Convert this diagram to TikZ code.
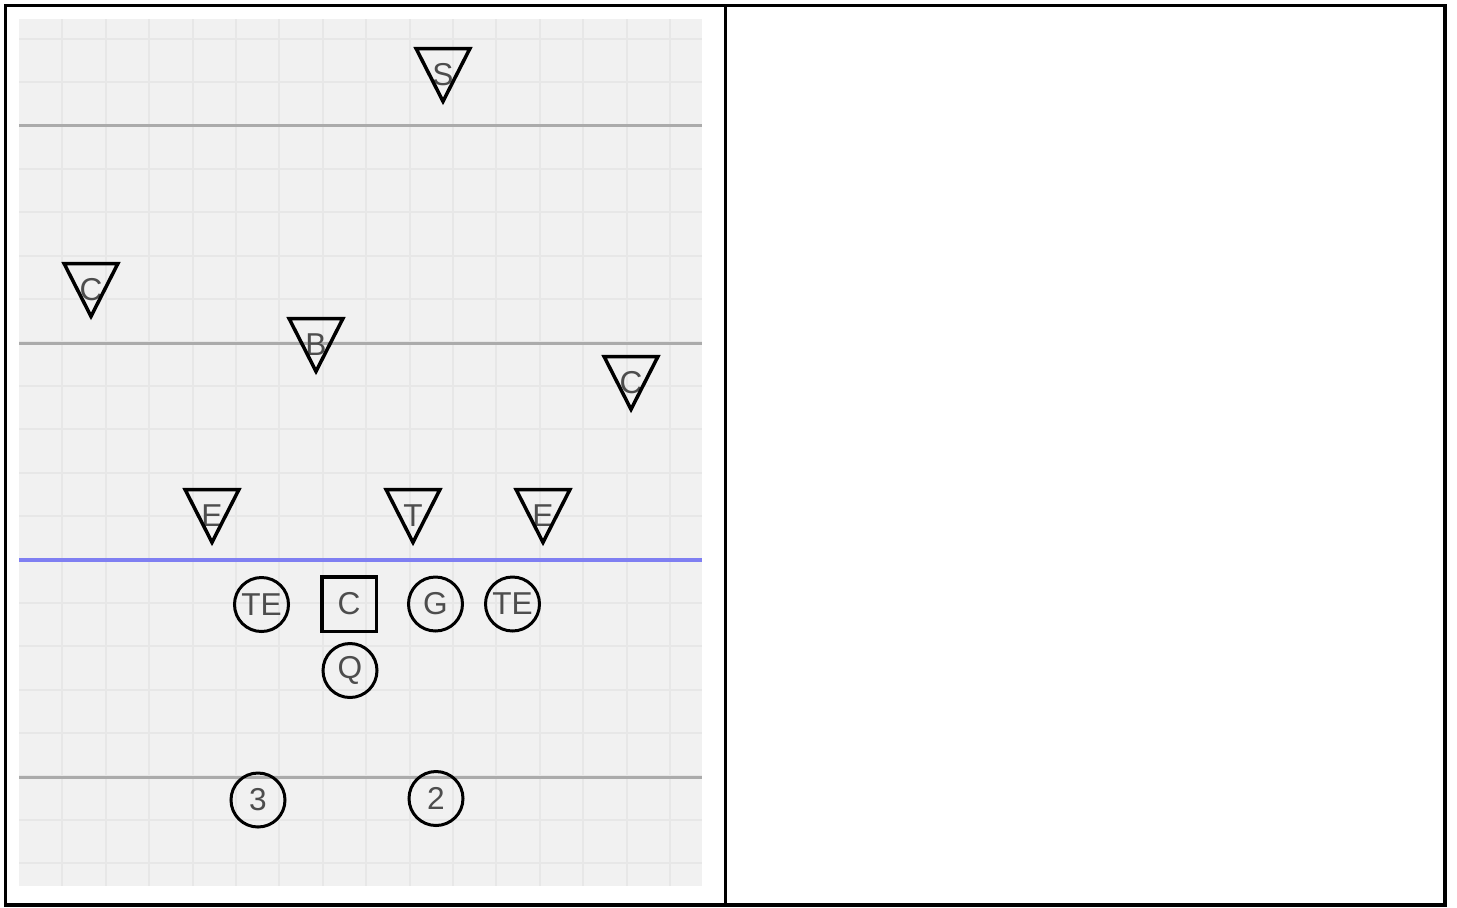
\documentclass[tikz,border=0pt]{standalone}
\usepackage{fontspec}
\newfontfamily\playerfont{Liberation Sans}
\usepackage{xcolor}
\usepackage{tikz}
\usetikzlibrary{calc}

\definecolor{fieldbg}{HTML}{F1F1F1}
\definecolor{gridgray}{HTML}{E7E7E7}
\definecolor{yardgray}{HTML}{ABABAB}
\definecolor{scrimblue}{HTML}{7F7FF2}
\definecolor{labelgray}{HTML}{4D4D4D}

\begin{document}
\begin{tikzpicture}[
    x=0.2mm,
    y=-0.2mm,
    font={\playerfont\fontsize{18}{18}\selectfont},
    frame/.style={
        draw=black,
        line width=0.7mm
    },
    gridline/.style={
        draw=gridgray,
        line width=0.4mm
    },
    yardline/.style={
        draw=yardgray,
        line width=0.6mm
    },
    scrimline/.style={
        draw=scrimblue,
        line width=0.8mm
    },
    defense/.style={
        inner sep=0pt,
        minimum width=10.6mm,
        minimum height=10.4mm,
        text=labelgray
    },
    tri/.style={
        draw=black,
        line width=0.7mm,
        line join=miter
    },
    offense/.style={
        draw=black,
        circle,
        line width=0.6mm,
        minimum size=10.8mm,
        inner sep=0pt,
        text=labelgray
    },
    snapbox/.style={
        draw=black,
        rectangle,
        line width=0.7mm,
        minimum size=10.9mm,
        inner sep=0pt,
        text=labelgray
    }
]

\useasboundingbox (0,0) rectangle (1457,907);

% table cells
\draw[frame] (5.5,5.5) rectangle (1445,905);
\draw[frame] (725.5,5.5) -- (725.5,905);

% field
\fill[fieldbg] (19,19) rectangle (702,886);
\foreach \gx in {1,...,15}
    \draw[gridline] ({19+43.4*\gx},19) -- ({19+43.4*\gx},886);
\foreach \gy in {0,...,19}
    \draw[gridline] (19,{38.5+43.4*\gy}) -- (702,{38.5+43.4*\gy});

\draw[yardline] (19,125) -- (702,125);
\draw[yardline] (19,343) -- (702,343);
\draw[yardline] (19,777) -- (702,777);
\draw[scrimline] (19,560) -- (702,560);

% defense
\foreach \nm/\px/\py/\lbl in {
    safety/443/75/S,
    cornerL/91/290/C,
    backer/316/345/B,
    cornerR/631/383/C,
    endL/212/516/E,
    tackle/413/516/T,
    endR/543/516/E}
{
    \node[defense] (\nm) at (\px,\py) {\lbl};
    \draw[tri] (\nm.north west) -- (\nm.north east) -- (\nm.south) -- cycle;
}

% offense
\node[offense] (teL) at (261.5,604.5) {TE};
\node[snapbox] (ctr) at (349,604) {C};
\node[offense] (guard) at (435.5,604) {G};
\node[offense] (teR) at (512.5,604) {TE};
\node[offense] (qb) at (350,670.5) {Q};
\node[offense] (back3) at (258,800) {3};
\node[offense] (back2) at (436,798.5) {2};

\end{tikzpicture}
\end{document}
